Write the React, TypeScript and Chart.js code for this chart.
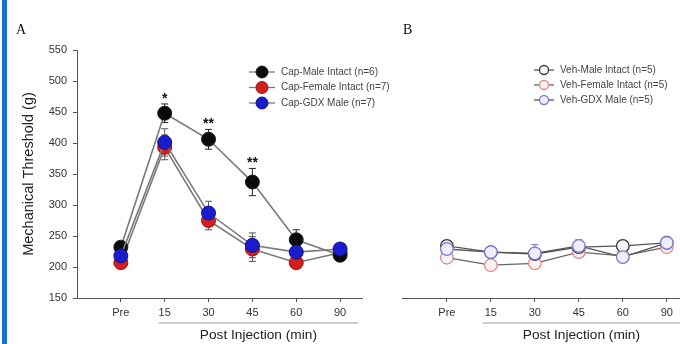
import React, { useEffect, useRef } from "react";
import { Chart, registerables } from "chart.js";
Chart.register(...registerables);

const timepoints = ["Pre", "15", "30", "45", "60", "90"];
const yMin = 150;
const yMax = 550;
const yStep = 50;

// Panel A (capsaicin)
const capMale = [232, 448, 406, 337, 244, 219];
const capMaleErr = [5, 15, 16, 22, 16, 5];
const capFemale = [207, 393, 275, 229, 207, 223];
const capFemaleErr = [5, 20, 15, 20, 6, 5];
const capGdx = [218, 401, 287, 235, 224, 229];
const capGdxErr = [6, 22, 19, 20, 8, 6];
const capStars = ["", "*", "**", "**", "", ""];

// Panel B (vehicle)
const vehMale = [234, 224, 221, 232, 234, 239];
const vehMaleErr = [6, 5, 8, 8, 6, 5];
const vehFemale = [215, 203, 206, 224, 218, 232];
const vehFemaleErr = [6, 5, 6, 8, 6, 5];
const vehGdx = [229, 224, 222, 234, 216, 239];
const vehGdxErr = [6, 5, 14, 10, 9, 5];

const capLabels = ["Cap-Male Intact (n=6)", "Cap-Female Intact (n=7)", "Cap-GDX Male (n=7)"];
const vehLabels = ["Veh-Male Intact (n=5)", "Veh-Female Intact (n=5)", "Veh-GDX Male (n=5)"];

const FONT = "'Liberation Sans', Arial, sans-serif";

const toPts = (arr: number[]) => arr.map((y, i) => ({ x: i, y }));

const errorBarPlugin = {
  id: "errbars",
  beforeDatasetsDraw(chart: any) {
    const ctx = chart.ctx;
    const ys = chart.scales.y;
    chart.data.datasets.forEach((ds: any, di: number) => {
      const meta = chart.getDatasetMeta(di);
      ctx.save();
      ctx.strokeStyle = ds.errColor || "#333";
      ctx.lineWidth = 1;
      meta.data.forEach((pt: any, i: number) => {
        const v = ds.data[i].y;
        const e = ds.err[i];
        const y1 = ys.getPixelForValue(v + e);
        const y2 = ys.getPixelForValue(v - e);
        const x = pt.x;
        ctx.beginPath();
        ctx.moveTo(x, y1);
        ctx.lineTo(x, y2);
        ctx.moveTo(x - 3.5, y1);
        ctx.lineTo(x + 3.5, y1);
        ctx.moveTo(x - 3.5, y2);
        ctx.lineTo(x + 3.5, y2);
        ctx.stroke();
      });
      ctx.restore();
    });
  },
};

const extrasPlugin = {
  id: "extras",
  afterDraw(chart: any, _args: any, opts: any) {
    const ctx = chart.ctx;
    const xs = chart.scales.x;
    const ys = chart.scales.y;
    ctx.save();
    // stars
    if (opts.stars) {
      ctx.fillStyle = "#111";
      ctx.font = `bold 14px ${FONT}`;
      ctx.textAlign = "center";
      ctx.textBaseline = "alphabetic";
      opts.stars.forEach((s: string, i: number) => {
        if (!s) return;
        const top = Math.min(
          ...opts.starRef.map((r: any) => ys.getPixelForValue(r.v[i] + r.e[i]))
        );
        ctx.fillText(s, xs.getPixelForValue(i), top - 1);
      });
    }
    // post injection underline + title
    const x1 = xs.getPixelForValue(1) + opts.lineStart;
    const x2 = Math.min(xs.getPixelForValue(5) + opts.lineEnd, chart.width);
    const ly = chart.chartArea.bottom + 25;
    ctx.strokeStyle = "#999";
    ctx.lineWidth = 1.2;
    ctx.beginPath();
    ctx.moveTo(x1, ly);
    ctx.lineTo(x2, ly);
    ctx.stroke();
    ctx.fillStyle = "#222";
    ctx.font = `13.7px ${FONT}`;
    ctx.textAlign = "center";
    ctx.textBaseline = "middle";
    ctx.fillText("Post Injection (min)", (x1 + x2) / 2, ly + 12);
    // panel letter
    ctx.font = `14px 'Liberation Serif', 'Times New Roman', serif`;
    ctx.textAlign = "left";
    ctx.fillStyle = "#111";
    ctx.fillText(opts.letter, opts.letterX, 30);
    // legend
    const lg = opts.legend;
    chart.data.datasets.forEach((_ds: any, i: number) => {
      const d = chart.data.datasets[i];
      const y = lg.y + i * lg.dy;
      ctx.strokeStyle = d.borderColor;
      ctx.lineWidth = 1.3;
      ctx.beginPath();
      ctx.moveTo(lg.x, y);
      ctx.lineTo(lg.x + lg.w, y);
      ctx.stroke();
      ctx.beginPath();
      ctx.arc(lg.x + lg.w / 2, y, lg.r, 0, Math.PI * 2);
      ctx.fillStyle = d.pointBackgroundColor;
      ctx.fill();
      ctx.strokeStyle = d.pointBorderColor;
      ctx.lineWidth = d.pointBorderWidth;
      ctx.stroke();
      ctx.fillStyle = "#444";
      ctx.font = `10px ${FONT}`;
      ctx.textAlign = "left";
      ctx.textBaseline = "middle";
      ctx.fillText(d.label, lg.x + lg.w + 6, y);
    });
    ctx.restore();
  },
};

function makeConfig(panel: "A" | "B"): any {
  const isA = panel === "A";
  const datasets = isA
    ? [
        {
          label: capLabels[0], data: toPts(capMale), err: capMaleErr, errColor: "#222",
          borderColor: "#7a7a7a", pointBackgroundColor: "#0a0a0a", pointBorderColor: "#222", order: 2,
        },
        {
          label: capLabels[1], data: toPts(capFemale), err: capFemaleErr, errColor: "#555",
          borderColor: "#7a7a7a", pointBackgroundColor: "#d21e1e", pointBorderColor: "#9a1010", order: 3,
        },
        {
          label: capLabels[2], data: toPts(capGdx), err: capGdxErr, errColor: "#555",
          borderColor: "#7a7a7a", pointBackgroundColor: "#1c1ccf", pointBorderColor: "#10108a", order: 1,
        },
      ]
    : [
        {
          label: vehLabels[0], data: toPts(vehMale), err: vehMaleErr, errColor: "#333",
          borderColor: "#555", pointBackgroundColor: "#f6f2fa", pointBorderColor: "#3a3a3a", order: 2,
        },
        {
          label: vehLabels[1], data: toPts(vehFemale), err: vehFemaleErr, errColor: "#c07070",
          borderColor: "#666", pointBackgroundColor: "#fbf2f4", pointBorderColor: "#e08a8a", order: 3,
        },
        {
          label: vehLabels[2], data: toPts(vehGdx), err: vehGdxErr, errColor: "#6a6ad0",
          borderColor: "#555", pointBackgroundColor: "#f1eefc", pointBorderColor: "#7b7bd6", order: 1,
        },
      ];
  datasets.forEach((d: any) => {
    d.borderWidth = isA ? 1.6 : 1.3;
    d.pointRadius = isA ? 7 : 6.3;
    d.pointBorderWidth = isA ? 1 : 1.3;
    d.showLine = true;
    d.tension = 0;
    d.clip = false;
  });
  return {
    type: "scatter",
    data: { datasets },
    plugins: [errorBarPlugin, extrasPlugin],
    options: {
      animation: false,
      responsive: false,
      layout: {
        autoPadding: false,
        padding: isA ? { top: 50, left: 20, right: 38, bottom: 0 } : { top: 50, left: 22, right: 0, bottom: 0 },
      },
      plugins: {
        legend: { display: false },
        tooltip: { enabled: false },
        extras: isA
          ? {
              stars: capStars,
              starRef: [{ v: capMale, e: capMaleErr }],
              lineStart: -6, lineEnd: 18, letter: "A", letterX: 16,
              legend: { x: 249, y: 72, dy: 15.5, w: 26, r: 6 },
            }
          : {
              lineStart: -8, lineEnd: 14, letter: "B", letterX: 23,
              legend: { x: 154, y: 70, dy: 15, w: 20, r: 4.5 },
            },
      },
      scales: {
        x: {
          type: "linear",
          min: isA ? -1 : -1.02,
          max: isA ? 5.5 : 5.3,
          afterBuildTicks: (s: any) => {
            s.ticks = timepoints.map((_, i) => ({ value: i }));
          },
          afterFit: (s: any) => {
            s.height = 46;
            s.paddingLeft = 0;
            s.paddingRight = 0;
          },
          ticks: {
            autoSkip: false,
            maxRotation: 0,
            padding: 4,
            color: "#333",
            font: { family: FONT, size: 11 },
            callback: (v: number) => timepoints[v] ?? "",
          },
          grid: { display: true, drawOnChartArea: false, drawTicks: true, tickLength: 4, color: "#555" },
          border: { display: true, color: "#555", width: 1 },
        },
        y: {
          display: isA,
          min: yMin,
          max: yMax,
          afterBuildTicks: (s: any) => {
            const t = [];
            for (let v = yMin; v <= yMax; v += yStep) t.push({ value: v });
            s.ticks = t;
          },
          afterFit: (s: any) => {
            s.width = isA ? 57 : 0;
          },
          ticks: {
            padding: 6,
            color: "#333",
            font: { family: FONT, size: 11 },
          },
          title: {
            display: true,
            text: "Mechanical Threshold (g)",
            color: "#222",
            font: { family: FONT, size: 14.5 },
            padding: { top: 0, bottom: 4 },
          },
          grid: { display: true, drawOnChartArea: false, drawTicks: true, tickLength: 4, color: "#555" },
          border: { display: true, color: "#555", width: 1 },
        },
      },
    },
  };
}

function Panel({ panel, left, width }: { panel: "A" | "B"; left: number; width: number }) {
  const ref = useRef<HTMLCanvasElement>(null);
  useEffect(() => {
    if (!ref.current) return;
    const chart = new Chart(ref.current, makeConfig(panel));
    return () => chart.destroy();
  }, [panel]);
  return (
    <canvas
      ref={ref}
      width={width}
      height={344}
      style={{ position: "absolute", left, top: 0, width, height: 344 }}
    />
  );
}

export default function App() {
  return (
    <div style={{ position: "fixed", left: 0, top: 0, width: 680, height: 344, background: "#fff", overflow: "hidden" }}>
      <div style={{ position: "absolute", left: 2, top: 0, width: 5, height: 344, background: "#1b72c4" }} />
      <Panel panel="A" left={0} width={400} />
      <Panel panel="B" left={380} width={300} />
    </div>
  );
}
